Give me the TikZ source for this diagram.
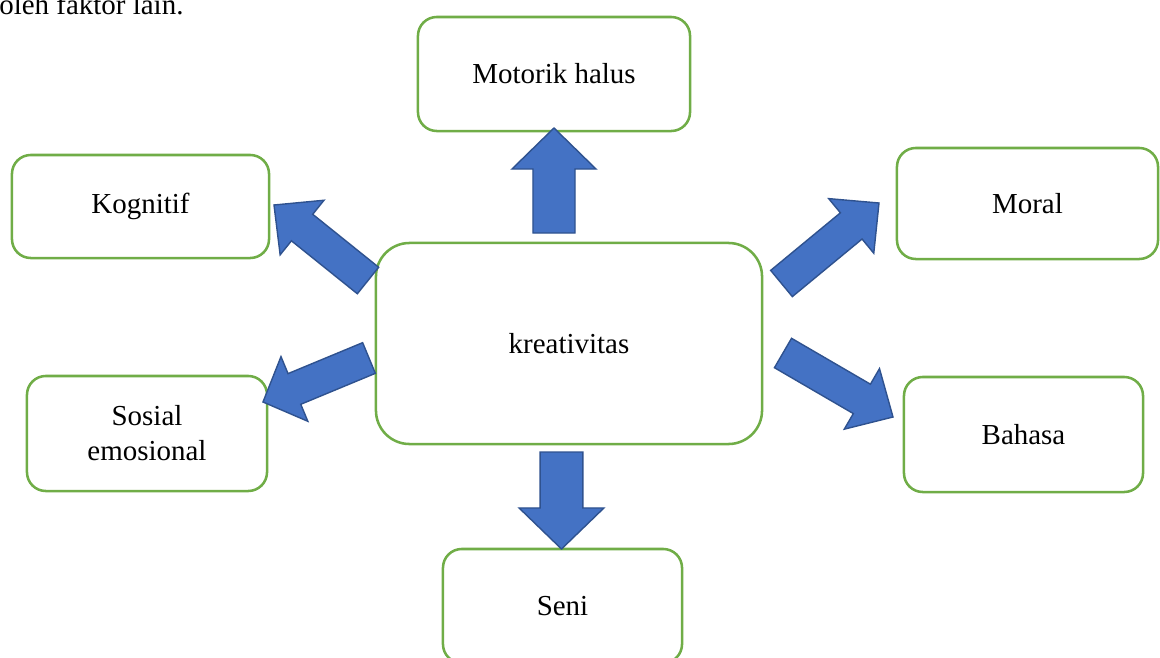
\documentclass[tikz,border=0pt]{standalone}
\usepackage{fontspec}
\setmainfont{Liberation Serif}
\usepackage{tikz}
\usetikzlibrary{calc}

\definecolor{boxgreen}{HTML}{70AD47}
\definecolor{arrowfill}{HTML}{4472C4}
\definecolor{arrowline}{HTML}{2F528F}

\tikzset{
    aspect/.style={draw=boxgreen, line width=1.8pt, fill=white, rounded corners=0.47cm,
                   align=center, inner sep=0pt,
                   font=\fontsize{20.6}{24.9}\selectfont},
    blockarrow/.style={fill=arrowfill, draw=arrowline, line width=1pt, line join=miter},
}

% block arrow: tail, tip, half shaft, half head, head length
\newcommand{\blockarrow}[5]{%
    \coordinate (ah) at ($(#2)!#5!(#1)$);
    \draw[blockarrow] ($(#1)!#3!90:(#2)$) -- ($(ah)!#3!90:(#2)$) -- ($(ah)!#4!90:(#2)$)
        -- (#2) -- ($(ah)!#4!-90:(#2)$) -- ($(ah)!#3!-90:(#2)$) -- ($(#1)!#3!-90:(#2)$) -- cycle;
}

\begin{document}
\begin{tikzpicture}[x=0.025cm, y=-0.025cm]
                \useasboundingbox (0, 0) rectangle (1160, 658);
                \node[anchor=base west, inner sep=0pt, font=\fontsize{20.6}{24.9}\selectfont] (lead) at (-1, 14) {oleh faktor lain.};

                \node[aspect, minimum width=9.65cm, minimum height=5.025cm, rounded corners=0.84cm] (kreativitas) at (569, 343.5) {kreativitas};
                \node[aspect, minimum width=6.8cm, minimum height=2.85cm] (motorik) at (554, 74) {Motorik halus};
                \node[aspect, minimum width=6.425cm, minimum height=2.575cm] (kognitif) at (140.5, 206.5) {Kognitif};
                \node[aspect, minimum width=6.525cm, minimum height=2.775cm] (moral) at (1027.5, 203.5) {Moral};
                \node[aspect, minimum width=6cm, minimum height=2.875cm] (sosial) at (147, 433.5) {Sosial\\emosional};
                \node[aspect, minimum width=5.975cm, minimum height=2.875cm] (bahasa) at (1023.5, 434.5) {Bahasa};
                \node[aspect, minimum width=5.975cm, minimum height=2.85cm] (seni) at (562.5, 606) {Seni};

                % arrow ends
                \coordinate (upfrom) at (554, 233);
                \coordinate (upto) at (554, 128);
                \coordinate (downfrom) at (561.5, 452);
                \coordinate (downto) at (561.5, 549);
                \coordinate (kogfrom) at (368, 280.5);
                \coordinate (kogto) at (274, 205);
                \coordinate (morfrom) at (781.5, 283.5);
                \coordinate (morto) at (879, 203);
                \coordinate (sosfrom) at (369, 358);
                \coordinate (sosto) at (263, 402);
                \coordinate (bahfrom) at (783, 353);
                \coordinate (bahto) at (893, 417);

                \blockarrow{upfrom}{upto}{0.525cm}{1.05cm}{1.025cm}
                \blockarrow{downfrom}{downto}{0.535cm}{1.06cm}{1.025cm}
                \blockarrow{kogfrom}{kogto}{0.425cm}{0.875cm}{0.9cm}
                \blockarrow{morfrom}{morto}{0.425cm}{0.885cm}{0.9cm}
                \blockarrow{sosfrom}{sosto}{0.415cm}{0.875cm}{0.85cm}
                \blockarrow{bahfrom}{bahto}{0.425cm}{0.875cm}{0.9cm}
\end{tikzpicture}
\end{document}
